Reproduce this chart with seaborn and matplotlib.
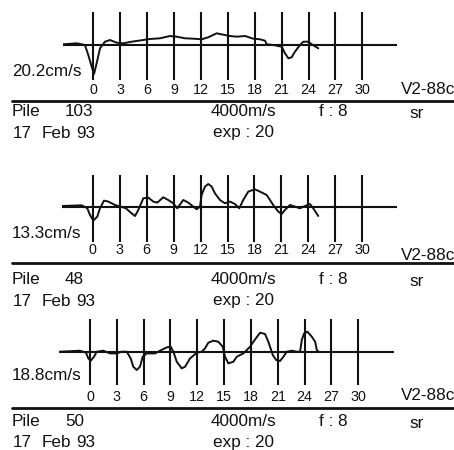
import numpy as np
import pandas as pd
import matplotlib
matplotlib.use("Agg")
import matplotlib.pyplot as plt
from matplotlib.lines import Line2D
import seaborn as sns

# ---------------- data ----------------
tick_values = [0, 3, 6, 9, 12, 15, 18, 21, 24, 27, 30]
pile_ids = ["103", "48", "50"]
scale_labels = ["20.2cm/s", "13.3cm/s", "18.8cm/s"]
wave_speed = "4000m/s"
filter_label = "f : 8"
exp_label = "exp : 20"
date_parts = ["17", "Feb", "93"]
instrument = "V2-88c"
mode_label = "sr"

depth1 = [-3.35, -1.85, -0.93, -0.56, -0.18, 0.08, 0.38, 0.75, 1.30, 1.86, 2.61, 3.35,
          4.28, 5.58, 6.32, 7.44, 8.55, 9.30, 10.23, 11.15, 12.09, 12.82, 13.76, 14.50,
          15.25, 15.99, 16.92, 17.84, 18.59, 19.15, 19.34, 20.07, 21.01, 21.38, 21.75,
          22.12, 22.49, 23.05, 23.42, 23.98, 24.36, 25.09]
vel1 = [0.7, 1.7, 0.0, -10.0, -21.7, -29.0, -18.0, -3.3, 3.3, 5.0, 2.3, 1.7,
        3.3, 5.0, 6.0, 6.7, 9.0, 8.3, 6.7, 6.3, 5.7, 7.7, 11.7, 10.3,
        9.0, 8.3, 9.0, 6.3, 5.7, 4.3, 0.7, 0.0, -1.7, -8.3, -13.3,
        -12.3, -6.7, 0.0, 3.3, 3.3, 0.7, -3.3]

depth2 = [-3.45, -1.22, -0.60, -0.30, 0.07, 0.51, 0.81, 1.26, 1.74, 2.48, 3.11, 3.70,
          4.23, 4.71, 5.07, 5.63, 6.18, 6.74, 7.19, 7.85, 8.41, 8.97, 9.41, 10.08,
          10.63, 11.19, 11.57, 11.94, 12.12, 12.49, 12.86, 13.24, 13.60, 14.16, 14.72,
          15.27, 15.83, 16.31, 16.75, 17.31, 18.05, 18.61, 19.36, 20.09, 20.65, 21.02,
          21.39, 21.95, 22.50, 23.06, 23.62, 24.17, 24.54, 25.10]
vel2 = [1.3, 2.0, -1.0, -7.7, -13.3, -9.3, -1.0, 6.7, 5.7, 2.3, 0.7, -1.0,
        -5.3, -8.7, -2.7, 9.0, 9.7, 5.7, 4.7, 10.0, 7.3, 4.0, -1.0, 7.3,
        4.7, 0.7, -2.0, 0.7, 12.3, 20.7, 23.3, 20.7, 14.0, 7.3, 4.0,
        5.7, 3.3, -1.0, 7.3, 15.7, 18.0, 15.7, 12.3, 2.3, -4.3, -6.7,
        -2.7, 2.3, 0.7, -1.0, 1.3, 3.3, -1.0, -8.7]

depth3 = [-3.36, -1.12, -0.45, -0.19, 0.08, 0.45, 0.75, 1.49, 2.24, 2.99, 3.55, 4.11,
          4.55, 4.84, 5.22, 5.59, 5.89, 6.34, 7.27, 7.83, 8.58, 9.03, 9.32, 9.70,
          10.26, 10.63, 11.19, 11.94, 12.49, 12.86, 13.23, 13.79, 14.35, 14.84, 15.10,
          15.47, 16.03, 16.41, 17.15, 17.90, 18.46, 19.02, 19.57, 19.94, 20.44, 20.81,
          21.25, 21.63, 22.00, 22.56, 23.12, 23.49, 23.68, 23.94, 24.31, 24.80, 25.17,
          25.36, 25.54]
vel3 = [0.0, 1.0, -1.0, -6.7, -9.0, -5.0, 0.0, 1.0, -1.7, -1.7, 0.0, 0.0,
        -6.7, -15.0, -18.3, -15.0, -5.0, -1.7, -1.7, 1.0, 4.3, 5.0, 0.0, -10.0,
        -16.7, -15.0, -6.7, -1.0, 0.0, 3.3, 9.0, 11.0, 10.0, 5.0, -5.0,
        -11.7, -10.0, -5.0, -1.7, 5.0, 12.3, 19.0, 17.7, 10.0, -3.3, -8.3,
        -9.3, -5.0, 0.0, 1.0, 0.0, 0.0, 11.7, 18.3, 20.0, 15.0, 10.0,
        1.7, 0.0]

depths = [depth1, depth2, depth3]
vels = [vel1, vel2, vel3]

# ---------------- layout (pixels) ----------------
W, H = 454, 450
sns.set_style("white")
plt.rcParams['font.family'] = ['Liberation Sans', 'DejaVu Sans']

fig = plt.figure(figsize=(W / 100, H / 100), dpi=100)

panels = [
    dict(p0=93.3, p30=362.3, bl=63.0, br=397.0, yt=12.0, yb=45.0, ybot=80.0, tick_y=90.0,
         lab_y=72.0, v_y=89.0, sep_y=100.5, row1=112.0, row2=133.0),
    dict(p0=92.7, p30=362.3, bl=61.7, br=396.7, yt=175.0, yb=207.3, ybot=241.7, tick_y=250.0,
         lab_y=234.0, v_y=255.0, sep_y=262.7, row1=280.0, row2=301.0),
    dict(p0=90.0, p30=358.3, bl=59.3, br=394.3, yt=319.3, yb=351.7, ybot=385.0, tick_y=396.7,
         lab_y=376.0, v_y=396.0, sep_y=407.7, row1=421.7, row2=442.7),
]

ink = "#111111"
big = 12.3
small = 10.3

def fx(px):
    return px / W

def fy(py):
    return 1 - py / H

for i, p in enumerate(panels):
    scale = (p["p30"] - p["p0"]) / 30.0
    ax = fig.add_axes([fx(p["bl"]), fy(p["ybot"]), (p["br"] - p["bl"]) / W,
                       (p["ybot"] - p["yt"]) / H])
    ax.set_xlim((p["bl"] - p["p0"]) / scale, (p["br"] - p["p0"]) / scale)
    ax.set_ylim(p["yb"] - p["ybot"], p["yb"] - p["yt"])
    for t in tick_values:
        ax.axvline(t, color=ink, lw=1.5, zorder=1)
    ax.axhline(0, color=ink, lw=1.5, zorder=1)
    df = pd.DataFrame({"depth": depths[i], "vel": vels[i]})
    sns.lineplot(data=df, x="depth", y="vel", ax=ax, color=ink, lw=1.4,
                 estimator=None, sort=False, zorder=2)
    for s in ax.spines.values():
        s.set_visible(False)
    ax.set_xlabel("")
    ax.set_ylabel("")
    ax.set_yticks([])
    ax.set_xticks(tick_values)
    ax.set_xticklabels([str(t) for t in tick_values], fontsize=small, color=ink)
    pad_px = p["tick_y"] - p["ybot"] - 6.5
    ax.tick_params(axis="x", length=0, pad=max(pad_px, 0.5) * 0.72)
    ax.patch.set_alpha(0)

    fig.text(fx(12), fy(p["lab_y"]), scale_labels[i], fontsize=big, va="center", ha="left", color=ink)
    fig.text(fx(455), fy(p["v_y"]), instrument, fontsize=big, va="center", ha="right", color=ink)
    fig.add_artist(Line2D([fx(12), fx(454)], [fy(p["sep_y"]), fy(p["sep_y"])], color=ink, lw=2.0))
    fig.text(fx(12), fy(p["row1"]), "Pile", fontsize=big, va="center", ha="left", color=ink)
    fig.text(fx(65), fy(p["row1"]), pile_ids[i], fontsize=big, va="center", ha="left", color=ink)
    fig.text(fx(211), fy(p["row1"]), wave_speed, fontsize=big, va="center", ha="left", color=ink)
    fig.text(fx(319), fy(p["row1"]), filter_label, fontsize=big, va="center", ha="left", color=ink)
    fig.text(fx(409), fy(p["row1"] + 1.5), mode_label, fontsize=big, va="center", ha="left", color=ink)
    fig.text(fx(13), fy(p["row2"]), date_parts[0], fontsize=big, va="center", ha="left", color=ink)
    fig.text(fx(42), fy(p["row2"]), date_parts[1], fontsize=big, va="center", ha="left", color=ink)
    fig.text(fx(76), fy(p["row2"]), date_parts[2], fontsize=big, va="center", ha="left", color=ink)
    fig.text(fx(213), fy(p["row2"]), exp_label, fontsize=big, va="center", ha="left", color=ink)

fig.savefig("out.png", dpi=100, facecolor="white")
